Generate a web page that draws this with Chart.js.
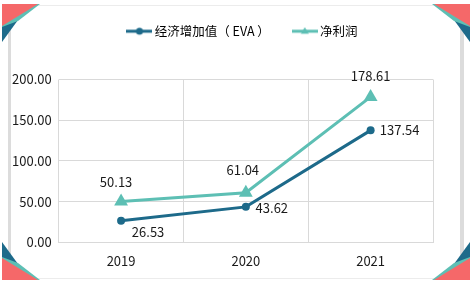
<!DOCTYPE html>
<html>
<head>
<meta charset="utf-8">
<script src="https://cdn.jsdelivr.net/npm/chart.js@4.4.1/dist/chart.umd.min.js"></script>
<style>
  html, body { margin: 0; padding: 0; background: #fff; }
  #wrap { position: relative; width: 472px; height: 284px; }
</style>
</head>
<body>
<div id="wrap"><canvas id="chartEva" width="472" height="284"></canvas></div>
<script>
const years = ["2019", "2020", "2021"];
const evaValues = [26.53, 43.62, 137.54];
const profitValues = [50.13, 61.04, 178.61];
const yTicks = [0, 50, 100, 150, 200];

const DARK = "#1d6a8a";
const TEAL = "#5dbfb4";
const RED = "#f56869";
const FONT = "'Noto Sans CJK SC', 'Noto Sans', sans-serif";

// little line+marker swatch for the legend
function swatch(color, shape) {
  const cv = document.createElement("canvas");
  cv.width = 26; cv.height = 12;
  const c = cv.getContext("2d");
  c.strokeStyle = color;
  c.fillStyle = color;
  c.lineWidth = 3;
  c.beginPath(); c.moveTo(0, 6); c.lineTo(26, 6); c.stroke();
  c.beginPath();
  if (shape === "circle") {
    c.arc(13, 6, 3.5, 0, Math.PI * 2);
  } else {
    c.moveTo(13, 2); c.lineTo(17, 8.5); c.lineTo(9, 8.5); c.closePath();
  }
  c.fill();
  return cv;
}

// card frame + corner ribbons, legend spacing
const framePlugin = {
  id: "frame",
  beforeInit(chart) {
    const lg = chart.legend;
    const fit = lg.fit;
    lg.fit = function () {
      fit.call(this);
      this.height += 31;
    };
    const draw = lg.draw;
    lg.draw = function () {
      chart.ctx.save();
      chart.ctx.translate(25, -1);
      draw.apply(this, arguments);
      chart.ctx.restore();
    };
  },
  beforeDraw(chart) {
    const c = chart.ctx;
    const W = chart.width, H = chart.height;
    c.save();
    c.fillStyle = "#fff";
    c.fillRect(0, 0, W, H);
    c.fillStyle = "#dcdcdc";
    c.fillRect(8, 5, 3, H - 10);
    c.fillRect(W - 12, 5, 4, H - 10);
    c.fillStyle = "#ececec";
    c.fillRect(8, 5, W - 16, 1);
    c.fillRect(8, H - 6, W - 16, 1);
    const tri = (pts, col) => {
      c.beginPath();
      c.moveTo(pts[0][0], pts[0][1]);
      for (let i = 1; i < pts.length; i++) c.lineTo(pts[i][0], pts[i][1]);
      c.closePath();
      c.fillStyle = col;
      c.fill();
    };
    const corner = (fx, fy) => {
      const p = (x, y) => [fx ? W - x : x, fy ? H - y : y];
      tri([p(2, 4), p(18, 20), p(2, 42)], DARK);
      tri([p(2, 4), p(40, 4), p(18, 21), p(2, 27)], TEAL);
      tri([p(2, 4), p(38, 4), p(2, 26)], RED);
    };
    corner(false, false);
    corner(true, false);
    corner(false, true);
    corner(true, true);
    c.restore();
  }
};

// value labels with per-series placement
const labelPlugin = {
  id: "valueLabels",
  afterDatasetsDraw(chart) {
    const c = chart.ctx;
    c.save();
    c.font = "13px " + FONT;
    c.fillStyle = "#1a1a1a";
    c.textAlign = "center";
    c.textBaseline = "middle";
    const offs = [
      [[27, 11], [26, 1], [29, 0]],
      [[-5, -20], [-3, -23], [0, -21]]
    ];
    chart.data.datasets.forEach((ds, di) => {
      chart.getDatasetMeta(di).data.forEach((pt, i) => {
        const o = offs[di][i];
        c.fillText(ds.data[i].toFixed(2), pt.x + o[0], pt.y + o[1]);
      });
    });
    c.restore();
  }
};

new Chart(document.getElementById("chartEva"), {
  type: "line",
  data: {
    labels: years,
    datasets: [
      {
        label: "经济增加值（ EVA ）",
        data: evaValues,
        borderColor: DARK,
        backgroundColor: DARK,
        borderWidth: 3,
        pointStyle: "circle",
        pointRadius: 4,
        pointBorderWidth: 0,
        tension: 0
      },
      {
        label: "净利润",
        data: profitValues,
        borderColor: TEAL,
        backgroundColor: TEAL,
        borderWidth: 3,
        pointStyle: "triangle",
        pointRadius: 8,
        pointBorderWidth: 0,
        tension: 0
      }
    ]
  },
  options: {
    responsive: false,
    animation: false,
    layout: { padding: { left: 5, right: 39, top: 0, bottom: 4 } },
    plugins: {
      legend: {
        position: "top",
        labels: {
          usePointStyle: true,
          pointStyleWidth: 18,
          color: "#1a1a1a",
          font: { size: 12.5, family: FONT },
          padding: 26,
          generateLabels(chart) {
            return chart.data.datasets.map((ds, i) => ({
              text: ds.label,
              fillStyle: ds.backgroundColor,
              strokeStyle: ds.borderColor,
              lineWidth: 0,
              pointStyle: swatch(ds.borderColor, ds.pointStyle),
              datasetIndex: i
            }));
          }
        }
      },
      tooltip: { enabled: false }
    },
    scales: {
      x: {
        offset: true,
        grid: { color: "#d9d9d9", offset: true, drawTicks: false },
        border: { color: "#d9d9d9" },
        ticks: { color: "#1a1a1a", font: { size: 13, family: FONT }, padding: 11 }
      },
      y: {
        min: 0,
        max: 200,
        afterBuildTicks(axis) { axis.ticks = yTicks.map(v => ({ value: v })); },
        grid: { color: "#d9d9d9", drawTicks: false },
        border: { display: false },
        ticks: {
          color: "#1a1a1a",
          font: { size: 13, family: FONT },
          padding: 7,
          callback: v => v.toFixed(2)
        }
      }
    }
  },
  plugins: [framePlugin, labelPlugin]
});
</script>
</body>
</html>
